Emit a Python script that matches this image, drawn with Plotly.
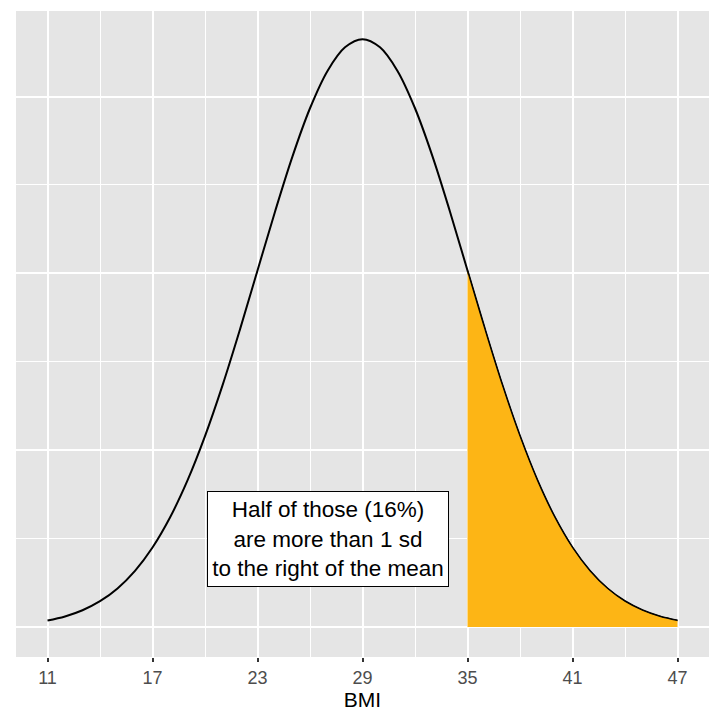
import plotly.graph_objects as go

# BMI values and the density
bmi = [11, 12, 13, 14, 15, 16, 17, 18, 19, 20, 21, 22, 23, 24, 25, 26, 27, 28, 29,
       30, 31, 32, 33, 34, 35, 36, 37, 38, 39, 40, 41, 42, 43, 44, 45, 46, 47]
density = [0.00074, 0.00120, 0.00190, 0.00292, 0.00437, 0.00636, 0.00900, 0.01239,
           0.01658, 0.02159, 0.02733, 0.03367, 0.04033, 0.04698, 0.05324, 0.05868,
           0.06290, 0.06557, 0.06649,
           0.06557, 0.06290, 0.05868, 0.05324, 0.04698, 0.04033, 0.03367, 0.02733,
           0.02159, 0.01658, 0.01239, 0.00900, 0.00636, 0.00437, 0.00292, 0.00190,
           0.00120, 0.00074]

cutoff = 35
x_ticks = [11, 17, 23, 29, 35, 41, 47]
label_text = "Half of those (16%)<br>are more than 1 sd<br>to the right of the mean"

shade_x = [x for x in bmi if x >= cutoff]
shade_y = [d for x, d in zip(bmi, density) if x >= cutoff]

fig = go.Figure()

# the full curve
fig.add_trace(go.Scatter(
    x=bmi, y=density, mode="lines",
    line=dict(color="black", width=2, shape="spline"),
    hoverinfo="skip"
))

# shaded tail beyond one sd
fig.add_trace(go.Scatter(
    x=shade_x, y=shade_y, mode="lines", fill="tozeroy",
    fillcolor="#FDB515",
    line=dict(color="black", width=1.2, shape="spline"),
    hoverinfo="skip"
))

fig.add_annotation(
    x=27, y=0.01, text=label_text, showarrow=False,
    font=dict(size=22.5, color="black"),
    bgcolor="white", bordercolor="black", borderwidth=1, borderpad=4,
    width=232, height=86, align="center"
)

# page body has an 8px margin, so the figure is a bit smaller than the window
fig.update_layout(
    width=712, height=712,
    showlegend=False,
    paper_bgcolor="white",
    plot_bgcolor="#E5E5E5",
    margin=dict(l=8, r=11, t=3, b=63),
    font=dict(family="Liberation Sans, Arial, sans-serif"),
)

fig.update_xaxes(
    range=[9.2, 48.8], automargin=False,
    tickvals=x_ticks, ticktext=[str(v) for v in x_ticks],
    tickfont=dict(size=18, color="#4D4D4D"),
    ticks="outside", ticklen=4, tickwidth=1.5, tickcolor="#333333",
    showgrid=True, gridcolor="white", gridwidth=2,
    minor=dict(tickvals=[14, 20, 26, 32, 38, 44], showgrid=True,
               gridcolor="white", gridwidth=1.1, ticks=""),
    zeroline=False, showline=False,
    title=dict(text="BMI", font=dict(size=21, color="black"), standoff=0),
)

fig.update_yaxes(
    range=[-0.00339, 0.06968], automargin=False,
    tickvals=[0, 0.02, 0.04, 0.06],
    showticklabels=False, ticks="",
    showgrid=True, gridcolor="white", gridwidth=2,
    minor=dict(tickvals=[0.01, 0.03, 0.05], showgrid=True,
               gridcolor="white", gridwidth=1.1, ticks=""),
    zeroline=False, showline=False,
)

fig.write_html("out.html")
